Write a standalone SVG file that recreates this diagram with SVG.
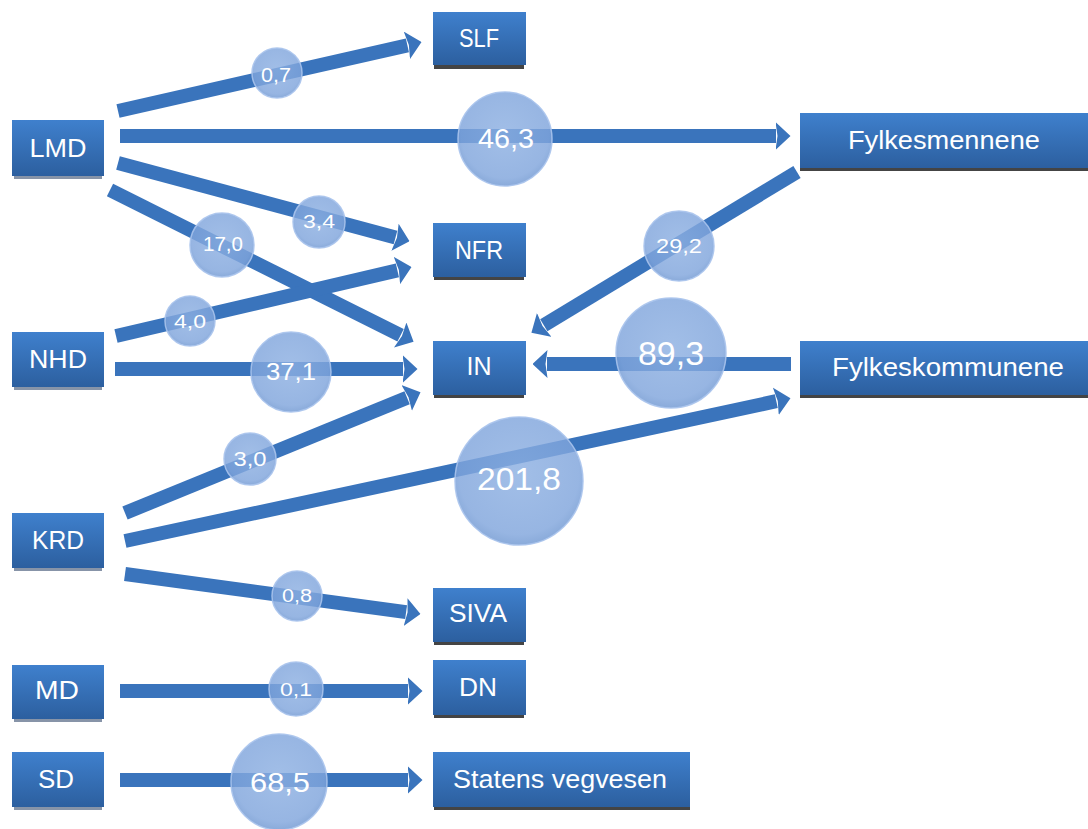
<svg xmlns="http://www.w3.org/2000/svg" width="1088" height="829" viewBox="0 0 1088 829">
<defs>
<linearGradient id="boxg" x1="0" y1="0" x2="0" y2="1">
<stop offset="0" stop-color="#3f80cd"/>
<stop offset="1" stop-color="#2c5f9f"/>
</linearGradient>
<radialGradient id="bub" cx="0.5" cy="0.45" r="0.55">
<stop offset="0" stop-color="#8db0e2"/>
<stop offset="0.85" stop-color="#80a5dc"/>
<stop offset="1" stop-color="#7098d2"/>
</radialGradient>
<marker id="ah" markerUnits="userSpaceOnUse" viewBox="0 0 15 28" markerWidth="15" markerHeight="28" refX="0.5" refY="14" orient="auto">
<path d="M0,0 L15,14 L0,28 L2,14 Z" fill="#3a74bc"/>
</marker>
</defs>
<style>
.box{fill:url(#boxg);}
.sh{fill:#444444;}
.shl{fill:#8794a8;}
.lbl{font-family:"Liberation Sans","Noto Sans",sans-serif;font-size:26px;fill:#ffffff;text-anchor:middle;}
.arr{stroke:#3a74bc;stroke-width:14;fill:none;marker-end:url(#ah);}
.b{fill:url(#bub);fill-opacity:0.82;stroke:#a8c3ec;stroke-width:1.5;stroke-opacity:0.9;}
.bt{font-family:"Liberation Sans","Noto Sans",sans-serif;fill:#ffffff;text-anchor:middle;}
</style>
<rect width="1088" height="829" fill="#ffffff"/>

<g id="connectors">
<line class="arr" x1="118" y1="111" x2="407.4" y2="45.3"/>
<line class="arr" x1="120" y1="136" x2="776" y2="136"/>
<line class="arr" x1="118" y1="163" x2="395.5" y2="237.4"/>
<line class="arr" x1="110" y1="190" x2="400.6" y2="335.3"/>
<line class="arr" x1="116" y1="336" x2="397.4" y2="270.4"/>
<line class="arr" x1="115" y1="369" x2="403" y2="369"/>
<line class="arr" x1="125" y1="513" x2="407.1" y2="397.7"/>
<line class="arr" x1="125" y1="541" x2="776.3" y2="401.2"/>
<line class="arr" x1="125" y1="574" x2="406.1" y2="612.1"/>
<line class="arr" x1="120" y1="691" x2="408" y2="691"/>
<line class="arr" x1="120" y1="780" x2="408" y2="780"/>
<line class="arr" x1="797" y1="172" x2="543.8" y2="325.2"/>
<line class="arr" x1="791" y1="364" x2="547" y2="364"/>
</g>

<g id="bubbles">
<g id="v07"><circle class="b" cx="277" cy="73" r="25"/><text class="bt" x="276" y="82" font-size="20" textLength="30" lengthAdjust="spacingAndGlyphs">0,7</text></g>
<g id="v463"><circle class="b" cx="505" cy="139" r="47"/><text class="bt" x="506" y="148" font-size="28" textLength="56" lengthAdjust="spacingAndGlyphs">46,3</text></g>
<g id="v34"><circle class="b" cx="319" cy="222" r="26"/><text class="bt" x="319" y="228" font-size="19" textLength="32" lengthAdjust="spacingAndGlyphs">3,4</text></g>
<g id="v170"><circle class="b" cx="222" cy="245" r="32"/><text class="bt" x="223" y="251" font-size="20" textLength="40" lengthAdjust="spacingAndGlyphs">17,0</text></g>
<g id="v292"><circle class="b" cx="679" cy="246" r="35"/><text class="bt" x="679" y="253" font-size="21" textLength="46" lengthAdjust="spacingAndGlyphs">29,2</text></g>
<g id="v40"><circle class="b" cx="190" cy="321" r="25"/><text class="bt" x="190" y="328" font-size="19" textLength="32" lengthAdjust="spacingAndGlyphs">4,0</text></g>
<g id="v893"><circle class="b" cx="671" cy="353" r="55"/><text class="bt" x="671" y="365" font-size="34" textLength="66" lengthAdjust="spacingAndGlyphs">89,3</text></g>
<g id="v371"><circle class="b" cx="291" cy="372" r="40"/><text class="bt" x="291" y="380" font-size="24" textLength="50" lengthAdjust="spacingAndGlyphs">37,1</text></g>
<g id="v30"><circle class="b" cx="250" cy="459" r="26"/><text class="bt" x="250" y="466" font-size="20" textLength="33" lengthAdjust="spacingAndGlyphs">3,0</text></g>
<g id="v2018"><circle class="b" cx="519" cy="481" r="64"/><text class="bt" x="519" y="490" font-size="32" textLength="84" lengthAdjust="spacingAndGlyphs">201,8</text></g>
<g id="v08"><circle class="b" cx="297" cy="596" r="25"/><text class="bt" x="297" y="602" font-size="18" textLength="30" lengthAdjust="spacingAndGlyphs">0,8</text></g>
<g id="v01"><circle class="b" cx="296" cy="689" r="27"/><text class="bt" x="296" y="696" font-size="18" textLength="32" lengthAdjust="spacingAndGlyphs">0,1</text></g>
<g id="v685"><circle class="b" cx="279" cy="782" r="48"/><text class="bt" x="280" y="792" font-size="28" textLength="60" lengthAdjust="spacingAndGlyphs">68,5</text></g>
</g>

<g id="SLF"><rect class="sh" x="434" y="65" width="90" height="4"/><rect class="box" x="433" y="12" width="93" height="53"/><text class="lbl" x="479" y="47" textLength="40" lengthAdjust="spacingAndGlyphs">SLF</text></g>
<g id="LMD"><rect class="shl" x="14" y="175" width="88" height="4"/><rect class="box" x="12" y="120" width="92" height="56"/><text class="lbl" x="58" y="157" textLength="57" lengthAdjust="spacingAndGlyphs">LMD</text></g>
<g id="Fylkesmennene"><rect class="sh" x="800" y="167" width="288" height="4"/><rect class="box" x="800" y="113" width="288" height="55"/><text class="lbl" x="944" y="149" textLength="192" lengthAdjust="spacingAndGlyphs">Fylkesmennene</text></g>
<g id="NFR"><rect class="sh" x="434" y="276" width="90" height="4"/><rect class="box" x="433" y="223" width="93" height="54"/><text class="lbl" x="479" y="259" textLength="48" lengthAdjust="spacingAndGlyphs">NFR</text></g>
<g id="NHD"><rect class="shl" x="14" y="386" width="88" height="4"/><rect class="box" x="12" y="332" width="92" height="55"/><text class="lbl" x="58" y="368" textLength="58" lengthAdjust="spacingAndGlyphs">NHD</text></g>
<g id="IN"><rect class="sh" x="434" y="394" width="90" height="4"/><rect class="box" x="433" y="341" width="93" height="54"/><text class="lbl" x="479" y="375" textLength="25" lengthAdjust="spacingAndGlyphs">IN</text></g>
<g id="Fylkeskommunene"><rect class="sh" x="800" y="394" width="288" height="4"/><rect class="box" x="800" y="341" width="288" height="54"/><text class="lbl" x="948" y="376" textLength="232" lengthAdjust="spacingAndGlyphs">Fylkeskommunene</text></g>
<g id="KRD"><rect class="shl" x="14" y="567" width="88" height="4"/><rect class="box" x="12" y="513" width="92" height="55"/><text class="lbl" x="58" y="549" textLength="52" lengthAdjust="spacingAndGlyphs">KRD</text></g>
<g id="SIVA"><rect class="sh" x="434" y="641" width="90" height="4"/><rect class="box" x="433" y="588" width="93" height="54"/><text class="lbl" x="478" y="622" textLength="58" lengthAdjust="spacingAndGlyphs">SIVA</text></g>
<g id="MD"><rect class="shl" x="14" y="718" width="88" height="4"/><rect class="box" x="12" y="665" width="92" height="54"/><text class="lbl" x="57" y="699" textLength="44" lengthAdjust="spacingAndGlyphs">MD</text></g>
<g id="DN"><rect class="sh" x="434" y="714" width="90" height="4"/><rect class="box" x="433" y="660" width="93" height="55"/><text class="lbl" x="478" y="696" textLength="38" lengthAdjust="spacingAndGlyphs">DN</text></g>
<g id="SD"><rect class="shl" x="14" y="806" width="88" height="4"/><rect class="box" x="12" y="752" width="92" height="55"/><text class="lbl" x="56" y="788" textLength="36" lengthAdjust="spacingAndGlyphs">SD</text></g>
<g id="Statens"><rect class="sh" x="434" y="806" width="256" height="4"/><rect class="box" x="433" y="752" width="257" height="55"/><text class="lbl" x="560" y="788" textLength="214" lengthAdjust="spacingAndGlyphs">Statens vegvesen</text></g>
</svg>
